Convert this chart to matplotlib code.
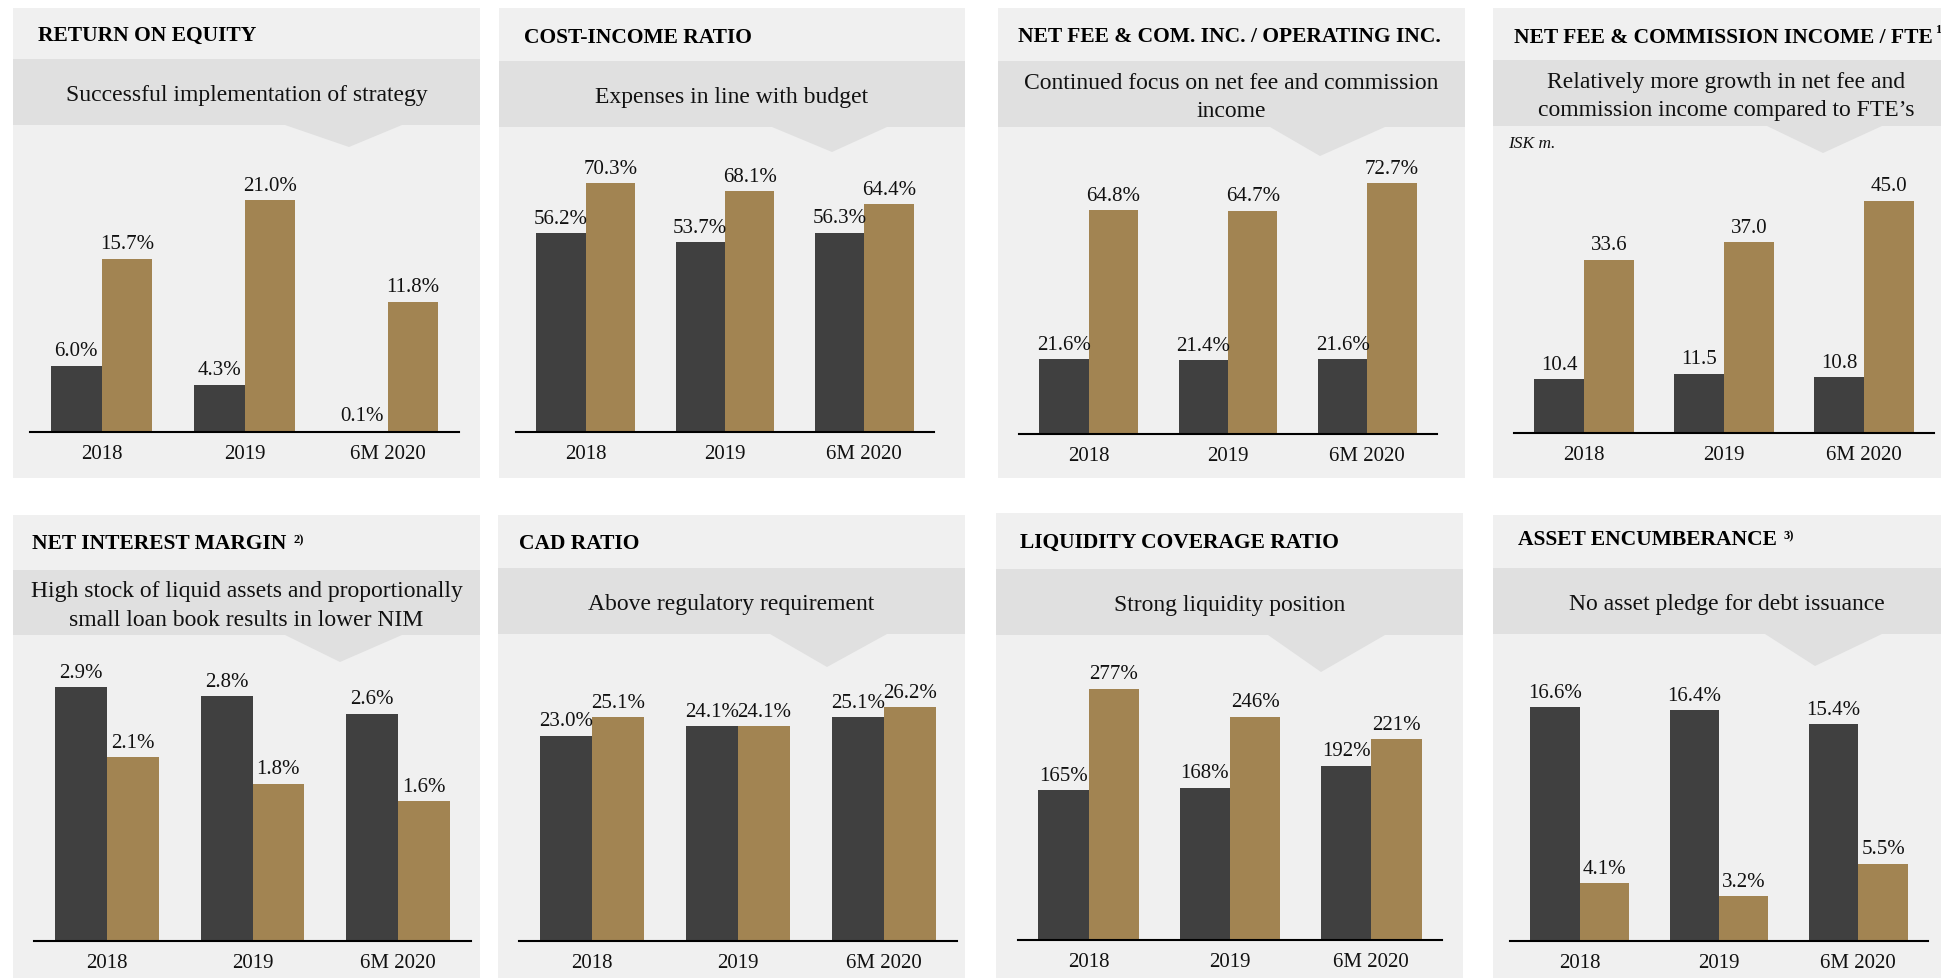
import matplotlib
matplotlib.use("Agg")
import matplotlib.pyplot as plt
import numpy as np
from matplotlib.patches import Rectangle, Polygon

# ---------------- data ----------------
years = ["2018", "2019", "6M 2020"]

titles = [
    "RETURN ON EQUITY",
    "COST-INCOME RATIO",
    "NET FEE & COM. INC. / OPERATING INC.",
    "NET FEE & COMMISSION INCOME / FTE",
    "NET INTEREST MARGIN",
    "CAD RATIO",
    "LIQUIDITY COVERAGE RATIO",
    "ASSET ENCUMBERANCE",
]
title_sups = ["", "", "", "1", "2)", "", "", "3)"]
subtitles = [
    ["Successful implementation of strategy"],
    ["Expenses in line with budget"],
    ["Continued focus on net fee and commission", "income"],
    ["Relatively more growth in net fee and", "commission income compared to FTE\u2019s"],
    ["High stock of liquid assets and proportionally", "small loan book results in lower NIM"],
    ["Above regulatory requirement"],
    ["Strong liquidity position"],
    ["No asset pledge for debt issuance"],
]
roe_dark = [6.0, 4.3, 0.1]
roe_gold = [15.7, 21.0, 11.8]
cir_dark = [56.2, 53.7, 56.3]
cir_gold = [70.3, 68.1, 64.4]
fee_op_dark = [21.6, 21.4, 21.6]
fee_op_gold = [64.8, 64.7, 72.7]
fee_fte_dark = [10.4, 11.5, 10.8]
fee_fte_gold = [33.6, 37.0, 45.0]
nim_dark = [2.9, 2.8, 2.6]
nim_gold = [2.1, 1.8, 1.6]
cad_dark = [23.0, 24.1, 25.1]
cad_gold = [25.1, 24.1, 26.2]
lcr_dark = [165, 168, 192]
lcr_gold = [277, 246, 221]
ae_dark = [16.6, 16.4, 15.4]
ae_gold = [4.1, 3.2, 5.5]

dark_series = [roe_dark, cir_dark, fee_op_dark, fee_fte_dark, nim_dark, cad_dark, lcr_dark, ae_dark]
gold_series = [roe_gold, cir_gold, fee_op_gold, fee_fte_gold, nim_gold, cad_gold, lcr_gold, ae_gold]
label_fmts = ["{:.1f}%", "{:.1f}%", "{:.1f}%", "{:.1f}", "{:.1f}%", "{:.1f}%", "{:.0f}%", "{:.1f}%"]

# ---------------- style / layout (pixels) ----------------
W, H = 1941, 979
PANEL = "#F0F0F0"
BAND = "#E0E0E0"
DARK = "#404040"
GOLD = "#A28452"

plt.rcParams['font.family'] = ['Liberation Serif', 'DejaVu Serif']

# panel: x0, y0, w, h, band_top, band_bot, arrow(xl, xr, xt, yt), title(x, baseline),
#        axes(x0, x1, baseline), ymax
layout = [
    dict(p=(13, 9, 467, 470), band=(60, 126), arr=(285, 402, 349, 148), t=(38, 41), ax=(30, 459, 433), ymax=27.8),
    dict(p=(499, 9, 466, 470), band=(62, 128), arr=(772, 887, 832, 153), t=(524, 43), ax=(516, 934, 433), ymax=86.2),
    dict(p=(998, 9, 467, 470), band=(62, 128), arr=(1270, 1385, 1320, 157), t=(1018, 42), ax=(1019, 1437, 435), ymax=89.0),
    dict(p=(1493, 9, 467, 470), band=(61, 127), arr=(1767, 1882, 1823, 154), t=(1514, 43), ax=(1514, 1934, 434), ymax=59.5),
    dict(p=(13, 516, 467, 470), band=(571, 636), arr=(285, 402, 340, 663), t=(32, 549), ax=(34, 471, 942), ymax=3.5),
    dict(p=(498, 516, 467, 470), band=(569, 635), arr=(770, 887, 827, 668), t=(519, 549), ax=(519, 957, 942), ymax=34.4),
    dict(p=(996, 514, 467, 470), band=(570, 636), arr=(1268, 1385, 1321, 673), t=(1020, 548), ax=(1018, 1442, 941), ymax=336),
    dict(p=(1493, 516, 467, 470), band=(569, 635), arr=(1765, 1882, 1815, 667), t=(1518, 545), ax=(1510, 1928, 942), ymax=21.8),
]

fig = plt.figure(figsize=(W / 100, H / 100), dpi=100)
fig.patch.set_facecolor("white")
bg = fig.add_axes([0, 0, 1, 1])
bg.set_xlim(0, W)
bg.set_ylim(H, 0)
bg.axis("off")
renderer = fig.canvas.get_renderer()

BW = 0.355
x = np.arange(len(years))

for i, L in enumerate(layout):
    px, py, pw, ph = L["p"]
    bt, bb = L["band"]
    bg.add_patch(Rectangle((px, py), pw, ph, fc=PANEL, ec="none"))
    bg.add_patch(Rectangle((px, bt), pw, bb - bt, fc=BAND, ec="none"))
    xl, xr, xt, yt = L["arr"]
    bg.add_patch(Polygon([(xl, bb), (xr, bb), (xt, yt)], closed=True, fc=BAND, ec="none"))

    tx, tb = L["t"]
    t = bg.text(tx, tb, titles[i], fontsize=15.5, fontweight="bold", ha="left", va="baseline", color="black")
    if title_sups[i]:
        ext = t.get_window_extent(renderer)
        gap = 2 if title_sups[i] == "1" else 7
        rise = 10 if title_sups[i] == "1" else 6
        bg.text(ext.x1 + gap, tb - rise, title_sups[i], fontsize=9, fontweight="bold",
                ha="left", va="baseline", color="black")

    # subtitle lines
    cx = px + pw / 2
    cy = (bt + bb) / 2
    lines = subtitles[i]
    n = len(lines)
    for k, line in enumerate(lines):
        yb = cy + 8 + (k - (n - 1) / 2) * 28.5
        bg.text(cx, yb, line, fontsize=17, ha="center", va="baseline", color="#111111")

    if i == 3:
        bg.text(1508, 148, "ISK m.", fontsize=12.5, fontstyle="italic", ha="left", va="baseline", color="#111111")

    ax0, ax1, base = L["ax"]
    ax = fig.add_axes([ax0 / W, 1 - base / H, (ax1 - ax0) / W, (base - bb) / H])
    ax.set_facecolor("none")
    for s in ["top", "right", "left"]:
        ax.spines[s].set_visible(False)
    ax.spines["bottom"].set_color("black")
    ax.spines["bottom"].set_linewidth(1.5)
    ax.set_xlim(-0.5, 2.5)
    ax.set_ylim(0, L["ymax"])
    ax.set_yticks([])
    d = dark_series[i]
    g = gold_series[i]
    ax.bar(x - BW / 2, d, BW, color=DARK, edgecolor="none", zorder=2)
    ax.bar(x + BW / 2, g, BW, color=GOLD, edgecolor="none", zorder=2)
    for xi, v in zip(x - BW / 2, d):
        ax.annotate(label_fmts[i].format(v), (xi, v), xytext=(0, 7.5), textcoords="offset points",
                    ha="center", va="baseline", fontsize=15, color="#111111", annotation_clip=False)
    for xi, v in zip(x + BW / 2, g):
        ax.annotate(label_fmts[i].format(v), (xi, v), xytext=(0, 7.5), textcoords="offset points",
                    ha="center", va="baseline", fontsize=15, color="#111111", annotation_clip=False)
    ax.set_xticks(x, years)
    ax.tick_params(axis="x", length=0, pad=9, labelsize=15, labelcolor="#111111")

fig.savefig("out.png", dpi=100, facecolor="white")
